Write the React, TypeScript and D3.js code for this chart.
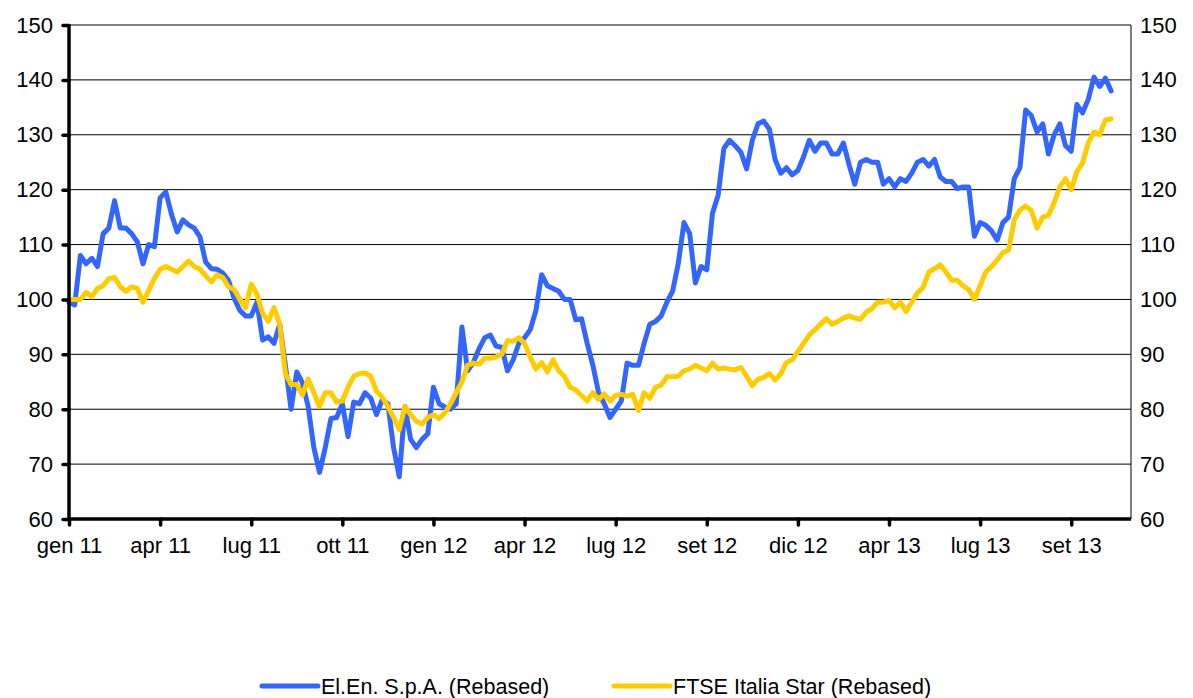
import React, { useEffect, useRef } from 'react';
import * as d3 from 'd3';

// category axis: one label every 64 trading days
const tickLabels = ['gen 11', 'apr 11', 'lug 11', 'ott 11', 'gen 12', 'apr 12', 'lug 12', 'set 12', 'dic 12', 'apr 13', 'lug 13', 'set 13'];
const daysPerTick = 64;
const totalDays = 746;
const sampleStep = 4; // trading days between two readings

const yTicks = [60, 70, 80, 90, 100, 110, 120, 130, 140, 150];

// El.En. S.p.A. (rebased), one reading every 4 trading days
const elen = [
  99.5, 99, 108, 106.5, 107.5, 106, 112, 113, 118, 113, 113, 112, 110.5, 106.5, 110, 109.6,
  118.5, 119.6, 115.5, 112.3, 114.5, 113.6, 113, 111.4, 106.8, 105.6, 105.5, 104.8, 103.5, 100.2, 98, 97,
  97, 99.5, 92.6, 93.2, 92, 95.5, 88, 80, 86.8, 84.8, 80.5, 73, 68.5, 73, 78.3, 78.5,
  81, 75, 81.3, 81, 83, 82, 79, 81.7, 81, 73, 67.7, 80.5, 74.5, 73, 74.5, 75.5,
  84, 81, 80.4, 80, 81, 95, 87, 88.5, 91, 93, 93.5, 91.5, 91.3, 87, 89, 92,
  93, 94.5, 98, 104.5, 102.5, 102, 101.5, 100, 100, 96.3, 96.5, 92, 88, 83, 81, 78.5,
  80, 81.5, 88.4, 88, 88, 92, 95.5, 96, 97, 99.5, 101.5, 106.6, 114, 112, 103, 106,
  105.4, 115.7, 119, 127.5, 129, 128, 126.8, 123.8, 129, 132, 132.5, 131, 125.5, 123, 124, 122.7,
  123.5, 126, 129, 127, 128.5, 128.5, 126.5, 126.5, 128.5, 124.5, 121, 125, 125.5, 125, 125, 121,
  122, 120.5, 122, 121.5, 123, 125, 125.5, 124.3, 125.5, 122.3, 121.5, 121.5, 120.2, 120.5, 120.5, 111.5,
  114, 113.5, 112.5, 110.8, 114, 115, 122, 124, 134.5, 133.5, 130.5, 132, 126.5, 130, 132, 128,
  127, 135.5, 134, 136.5, 140.5, 138.8, 140.3, 138
];

// FTSE Italia Star (rebased), same dates
const ftse = [
  100, 100, 100, 101.3, 100.5, 102, 102.5, 103.8, 104, 102.3, 101.5, 102.3, 102, 99.5, 101.7, 103.8,
  105.5, 106, 105.5, 105, 106, 107, 106, 105.5, 104.3, 103.2, 104.5, 104, 102.3, 101.8, 100, 98.5,
  102.8, 101, 97.5, 96, 98.5, 95.5, 86.5, 84.5, 84.5, 82.6, 85.5, 83, 80.5, 83, 83, 81.3,
  81.5, 84, 86, 86.5, 86.6, 86, 83.3, 82.2, 80.5, 78.5, 76.3, 80.5, 79, 77.8, 77.3, 78.5,
  79, 78.3, 79.3, 81, 83, 85, 88, 88.4, 88.2, 89.3, 89.3, 89.5, 90, 92.5, 92.4, 93,
  92, 89.5, 87.3, 88.5, 86.8, 89, 87, 86, 84, 83.5, 82.5, 81.5, 83, 81.8, 82.8, 81.5,
  82.5, 82.7, 82.4, 82.7, 79.8, 83, 82, 84, 84.4, 85.9, 85.9, 86, 87, 87.3, 88, 87.5,
  87, 88.4, 87.3, 87.5, 87.3, 87.2, 87.6, 86, 84.3, 85.5, 85.8, 86.5, 85.3, 86.5, 88.5, 89,
  90.5, 92, 93.5, 94.5, 95.5, 96.5, 95.5, 96, 96.6, 97, 96.6, 96.4, 97.7, 98.3, 99.5, 99.5,
  99.8, 98.5, 99.5, 97.8, 99.5, 101.2, 102.2, 105, 105.6, 106.3, 105, 103.5, 103.5, 102.5, 101.8, 100,
  102.5, 105, 106, 107.2, 108.5, 109, 114.5, 116.3, 117, 116.2, 113, 115, 115.3, 117.6, 120.5, 122,
  120, 123.3, 124.9, 128.5, 130.5, 130, 132.7, 132.9
];

const seriesNames = ['El.En. S.p.A. (Rebased)', 'FTSE Italia Star (Rebased)'];
const seriesColors = ['#3366ff', '#ffcc00'];

const W = 1193;
const H = 698;
const margin = { left: 69, right: 62, top: 25, bottom: 179 };
const font = 'Arial, "Liberation Sans", sans-serif';

const draw = (node: SVGSVGElement) => {
  const svg = d3.select(node);
  svg.selectAll('*').remove();

  const x = d3.scaleLinear().domain([0, totalDays]).range([margin.left, W - margin.right]);
  const y = d3.scaleLinear().domain([60, 150]).range([H - margin.bottom, margin.top]);

  // gridlines
  svg.append('g')
    .selectAll('line')
    .data(yTicks)
    .enter()
    .append('line')
    .attr('x1', x(0))
    .attr('x2', x(totalDays))
    .attr('y1', d => y(d))
    .attr('y2', d => y(d))
    .attr('stroke', '#000')
    .attr('stroke-width', 1);

  // right border
  svg.append('line')
    .attr('x1', x(totalDays)).attr('x2', x(totalDays))
    .attr('y1', y(150)).attr('y2', y(60))
    .attr('stroke', '#000').attr('stroke-width', 1);

  // series
  const line = d3.line<number>()
    .x((d, i) => x(i * sampleStep))
    .y(d => y(d));

  [elen, ftse].forEach((data, k) => {
    svg.append('path')
      .datum(data)
      .attr('fill', 'none')
      .attr('stroke', seriesColors[k])
      .attr('stroke-width', 5)
      .attr('stroke-linejoin', 'round')
      .attr('stroke-linecap', 'round')
      .attr('d', line);
  });

  // left axis
  const left = svg.append('g').attr('transform', `translate(${x(0)},0)`)
    .call(d3.axisLeft(y).tickValues(yTicks).tickSize(6).tickPadding(10));
  left.select('.domain').attr('stroke-width', 3.5).attr('d', `M0,${y(150)}V${y(60)}`);
  left.selectAll('.tick line').attr('stroke-width', 3.5).attr('stroke-linecap', 'round');
  left.selectAll('.tick text').attr('font-size', 22).attr('font-family', font).attr('fill', '#000');

  // right labels
  const right = svg.append('g').attr('transform', `translate(${x(totalDays)},0)`)
    .call(d3.axisRight(y).tickValues(yTicks).tickSize(0).tickPadding(9));
  right.select('.domain').remove();
  right.selectAll('.tick text').attr('font-size', 22).attr('font-family', font).attr('fill', '#000');

  // bottom axis
  const tickDays = tickLabels.map((_, i) => i * daysPerTick);
  const bottom = svg.append('g').attr('transform', `translate(0,${y(60)})`)
    .call(d3.axisBottom(x).tickValues(tickDays).tickFormat((d, i) => tickLabels[i]).tickSize(6).tickPadding(12));
  bottom.select('.domain').attr('stroke-width', 3.5).attr('d', `M${x(0)},0H${x(totalDays)}`);
  bottom.selectAll('.tick line').attr('stroke-width', 3.5).attr('stroke-linecap', 'round');
  bottom.selectAll('.tick text').attr('font-size', 22).attr('font-family', font).attr('fill', '#000');

  // legend
  const legendX = [262, 614];
  const legendY = 686;
  seriesNames.forEach((name, k) => {
    const g = svg.append('g').attr('transform', `translate(${legendX[k]},${legendY})`);
    g.append('line')
      .attr('x1', 0).attr('x2', 56)
      .attr('stroke', seriesColors[k])
      .attr('stroke-width', 5)
      .attr('stroke-linecap', 'round');
    g.append('text')
      .attr('x', 59)
      .attr('y', 8)
      .attr('font-size', 21.5)
      .attr('font-family', font)
      .attr('fill', '#000')
      .text(name);
  });
};

const App = () => {
  const ref = useRef<SVGSVGElement>(null);
  useEffect(() => {
    if (ref.current) draw(ref.current);
  }, []);
  return (
    <svg
      ref={ref}
      width={W}
      height={H}
      style={{ position: 'absolute', left: 0, top: 0, background: '#fff' }}
    />
  );
};

export default App;
